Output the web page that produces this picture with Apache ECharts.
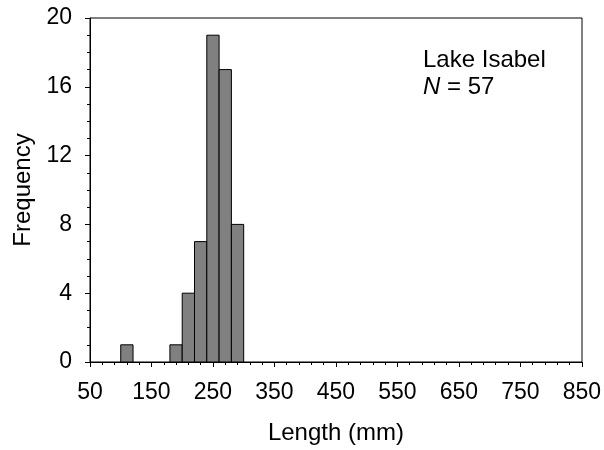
<!DOCTYPE html>
<html>
<head>
<meta charset="utf-8">
<script src="https://cdn.jsdelivr.net/npm/echarts@6/dist/echarts.min.js"></script>
<style>
  html, body { margin: 0; padding: 0; background: #fff; }
  #main { width: 604px; height: 450px; }
</style>
</head>
<body>
<div id="main"></div>
<script>
// histogram bins (mm), bin width 20
var binStart = [100, 180, 200, 220, 240, 260, 280];
var binWidth = 20;
var counts = [1, 1, 4, 7, 19, 17, 8];
var lakeName = 'Lake Isabel';
var sampleSize = 57;

var chart = echarts.init(document.getElementById('main'));

var bars = binStart.map(function (s, i) {
    return [s, s + binWidth, counts[i]];
});

var font = 'Liberation Sans, Arial, sans-serif';

option = {
    animation: false,
    grid: {
        left: 90,
        top: 18,
        right: 22,
        bottom: 88
    },
    xAxis: {
        type: 'value',
        min: 50,
        max: 850,
        interval: 100,
        name: 'Length (mm)',
        nameLocation: 'middle',
        nameGap: 59,
        nameTextStyle: { color: '#000', fontSize: 24, fontFamily: font },
        axisLine: { show: true, onZero: false, lineStyle: { color: '#000', width: 1 } },
        axisTick: { show: true, length: 5, lineStyle: { color: '#000' } },
        minorTick: { show: true, splitNumber: 5, length: 3, lineStyle: { color: '#000' } },
        splitLine: { show: false },
        axisLabel: { color: '#000', fontSize: 23, fontFamily: font, margin: 19 }
    },
    yAxis: {
        type: 'value',
        min: 0,
        max: 20,
        interval: 4,
        name: 'Frequency',
        nameLocation: 'middle',
        nameGap: 54,
        nameRotate: 90,
        nameTextStyle: { color: '#000', fontSize: 24, fontFamily: font },
        axisLine: { show: true, lineStyle: { color: '#000', width: 1 } },
        axisTick: { show: true, length: 5, lineStyle: { color: '#000' } },
        minorTick: { show: true, splitNumber: 4, length: 3, lineStyle: { color: '#000' } },
        splitLine: { show: false },
        axisLabel: { color: '#000', fontSize: 23, fontFamily: font, margin: 18 }
    },
    graphic: [
        // frame top + right
        {
            type: 'rect',
            shape: { x: 90, y: 18, width: 492, height: 344 },
            style: { fill: 'none', stroke: '#000', lineWidth: 1 },
            silent: true,
            z: 0
        },
        {
            type: 'text',
            left: 423,
            top: 47,
            style: {
                text: lakeName + '\n{i|N} = ' + sampleSize,
                fill: '#000',
                font: '24px ' + font,
                lineHeight: 27,
                rich: {
                    i: { fontStyle: 'italic', fontSize: 24, fontFamily: font, fill: '#000', lineHeight: 27 }
                }
            }
        }
    ],
    series: [{
        type: 'custom',
        data: bars,
        encode: { x: [0, 1], y: 2 },
        renderItem: function (params, api) {
            var p0 = api.coord([api.value(0), api.value(2)]);
            var p1 = api.coord([api.value(1), 0]);
            return {
                type: 'rect',
                shape: { x: p0[0], y: p0[1], width: p1[0] - p0[0], height: p1[1] - p0[1] },
                style: { fill: '#808080', stroke: '#000', lineWidth: 1 }
            };
        }
    }]
};

chart.setOption(option);
</script>
</body>
</html>
